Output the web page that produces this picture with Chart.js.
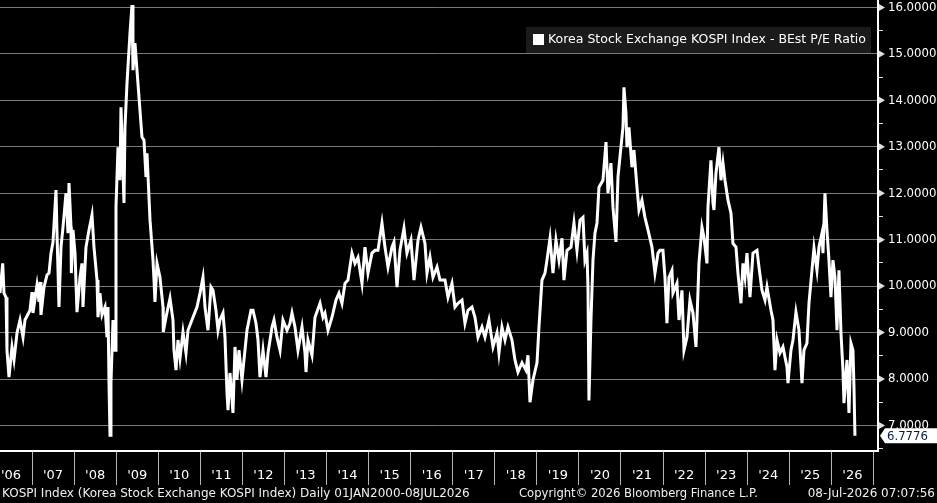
<!DOCTYPE html>
<html>
<head>
<meta charset="utf-8">
<script src="https://cdn.jsdelivr.net/npm/chart.js@4/dist/chart.umd.min.js"></script>
<style>
html,body{margin:0;padding:0;background:#000;overflow:hidden;}
canvas{display:block;}
</style>
</head>
<body>
<canvas id="c" width="937" height="503"></canvas>
<script>
// ---- DATA ----
const years = [
2006.239,2006.303,2006.334,2006.382,2006.405,2006.453,2006.524,2006.572,2006.643,2006.714,2006.786,2006.833,2006.952,
2007.000,2007.023,2007.118,2007.166,2007.190,2007.213,2007.285,2007.356,2007.404,2007.451,2007.499,2007.570,2007.594,
2007.641,2007.689,2007.737,2007.808,2007.855,2007.879,2007.927,2007.935,2007.974,2008.022,2008.069,2008.141,2008.188,
2008.212,2008.283,2008.355,2008.426,2008.473,2008.545,2008.568,2008.616,2008.664,2008.735,2008.782,2008.806,2008.830,
2008.854,2008.877,2008.925,2008.973,2008.996,2009.044,2009.091,2009.115,2009.186,2009.210,2009.258,2009.329,2009.377,
2009.400,2009.448,2009.495,2009.543,2009.614,2009.662,2009.709,2009.733,2009.805,2009.876,2009.900,2009.923,2009.971,
2010.042,2010.114,2010.120,2010.185,2010.280,2010.351,2010.375,2010.423,2010.470,2010.518,2010.589,2010.660,2010.708,
2010.827,2010.922,2010.993,2011.064,2011.112,2011.183,2011.254,2011.302,2011.373,2011.421,
2011.468,2011.540,2011.587,2011.635,2011.659,2011.706,2011.777,2011.825,2011.872,2011.920,2011.991,2012.039,2012.110,
2012.205,2012.253,2012.324,2012.372,2012.419,2012.491,2012.562,2012.610,2012.705,2012.752,2012.823,2012.895,2012.966,
2013.061,2013.132,2013.180,2013.251,2013.322,2013.418,2013.489,2013.513,2013.560,2013.655,2013.727,2013.846,2013.917,
2013.964,2014.036,2014.131,2014.226,2014.297,2014.368,2014.440,2014.511,2014.606,2014.677,2014.749,2014.844,2014.915,
2014.986,2015.081,2015.153,2015.224,2015.319,2015.390,2015.462,2015.557,2015.604,2015.676,2015.747,2015.842,2015.913,
2016.008,2016.080,2016.175,2016.246,2016.341,2016.389,2016.460,2016.531,2016.627,2016.698,2016.817,2016.888,
2016.983,2017.054,2017.126,2017.221,2017.292,2017.363,2017.458,2017.530,2017.601,2017.696,2017.767,2017.862,2017.958,
2018.053,2018.100,2018.171,2018.243,2018.314,2018.409,2018.480,2018.552,2018.647,2018.742,2018.790,2018.837,2018.908,
2019.004,2019.051,2019.122,2019.194,2019.241,2019.313,2019.384,2019.455,2019.526,2019.598,2019.645,2019.717,2019.812,
2019.883,2019.954,2020.026,2020.097,2020.144,2020.192,2020.216,2020.239,2020.287,2020.335,2020.382,2020.430,2020.477,
2020.572,2020.644,2020.691,2020.762,2020.810,2020.881,2020.929,2020.976,2021.048,2021.071,2021.119,2021.143,2021.190,
2021.261,2021.309,2021.380,2021.428,2021.499,2021.570,2021.642,2021.737,2021.808,2021.880,2021.927,
2021.998,2022.046,2022.093,2022.141,2022.212,2022.236,2022.331,2022.379,2022.450,2022.498,2022.569,2022.640,2022.712,
2022.783,2022.807,2022.854,2022.925,2022.973,2023.044,2023.068,2023.139,2023.187,2023.211,2023.258,2023.330,2023.377,
2023.425,2023.472,2023.544,2023.615,2023.662,2023.734,2023.781,2023.853,2023.900,2023.948,2023.995,2024.067,2024.138,
2024.233,2024.281,2024.352,2024.423,2024.471,2024.566,2024.613,2024.661,2024.709,2024.780,2024.851,2024.946,2024.970,
2025.041,2025.089,2025.160,2025.231,2025.303,2025.350,2025.421,2025.469,2025.540,2025.588,2025.659,2025.707,2025.778,
2025.802,2025.849,2025.897,2025.944,2025.992,2026.039,2026.087,2026.135,2026.182,2026.230,2026.277,2026.301,2026.372,
2026.420,2026.467,2026.515,2026.539,2026.562
];
const peRatio = [
9.85,10.49,9.85,9.76,8.62,8.04,8.69,8.41,8.99,9.27,8.90,9.27,9.48,
9.87,9.42,10.02,9.66,10.09,9.38,9.98,10.24,10.28,10.71,10.95,12.07,11.14,
9.55,10.84,11.27,12.00,11.14,12.22,11.27,10.28,11.21,10.71,9.44,10.19,10.49,
9.55,10.84,11.21,11.53,10.84,10.13,9.33,9.85,9.38,9.55,8.90,9.55,7.91,
6.79,7.91,9.27,8.62,11.70,12.99,12.28,13.85,11.79,13.42,14.37,15.45,16.05,
14.65,15.23,14.65,14.07,13.21,13.14,12.35,12.86,11.42,10.56,10.13,9.66,10.49,
10.19,9.55,9.01,9.33,9.74,9.27,8.62,8.19,8.84,8.45,9.01,8.56,9.05,
9.33,9.55,9.85,10.19,9.55,9.05,9.98,9.91,9.48,9.05,
9.27,9.42,8.90,7.70,7.33,8.13,7.27,8.69,7.98,8.62,7.98,8.41,9.05,
9.48,9.48,9.20,8.84,8.04,8.62,8.04,8.56,9.12,9.27,8.90,8.62,9.27,
9.05,9.20,9.42,9.12,8.62,9.12,8.56,8.15,8.84,8.51,9.33,9.63,9.33,
9.42,9.05,9.33,9.70,9.85,9.63,10.06,10.13,10.71,10.49,10.62,10.06,10.84,
10.28,10.71,10.77,10.77,11.36,10.84,10.41,10.84,10.95,9.98,10.77,11.25,10.71,
10.99,10.13,10.99,11.27,10.92,10.28,10.62,10.19,10.41,10.13,10.13,9.76,
10.06,9.55,9.63,9.70,9.20,9.48,9.55,9.33,8.90,9.12,8.90,9.27,8.69,
8.99,8.56,9.12,8.84,9.12,8.84,8.41,8.15,8.35,8.19,8.51,7.50,7.98,
8.35,9.12,10.13,10.28,10.56,11.03,10.28,10.99,10.56,11.03,10.13,10.77,10.84,
11.36,10.77,11.42,11.48,10.56,10.71,9.98,7.54,9.27,10.56,11.14,11.36,12.13,
12.28,13.10,12.00,12.65,11.70,10.95,12.35,12.78,13.42,14.28,13.72,12.99,13.42,
12.56,12.93,12.13,11.64,11.85,11.48,11.21,10.84,10.28,10.71,10.77,
10.77,10.19,9.20,10.19,10.34,9.85,10.06,9.27,9.91,8.62,8.90,9.70,9.42,
8.69,9.27,10.49,11.27,11.05,10.49,11.70,12.71,11.79,11.64,12.43,12.99,12.28,
12.65,12.28,11.85,11.57,10.92,10.84,10.28,9.63,10.49,10.19,10.71,9.76,10.71,
10.77,10.41,9.91,9.70,9.98,9.48,9.27,8.19,8.84,8.56,8.69,8.26,7.91,
8.62,8.84,9.44,9.05,7.91,8.62,8.77,9.63,10.34,10.82,10.34,10.84,11.14,
10.71,12.00,11.20,10.56,9.76,10.56,10.19,9.05,10.34,8.99,8.19,7.48,8.41,
7.27,8.77,8.62,7.82,6.7776
];
const seriesName = "Korea Stock Exchange KOSPI Index - BEst P/E Ratio";
const lastValueLabel = "6.7776";
const xTickYears = [2007,2008,2009,2010,2011,2012,2013,2014,2015,2016,2017,2018,2019,2020,2021,2022,2023,2024,2025,2026,2027];
const xTickLabels = ["'06","'07","'08","'09","'10","'11","'12","'13","'14","'15","'16","'17","'18","'19","'20","'21","'22","'23","'24","'25","'26"];
const yTickValues = [6.5,7,7.5,8,8.5,9,9.5,10,10.5,11,11.5,12,12.5,13,13.5,14,14.5,15,15.5,16];
const footerLeft = "KOSPI Index (Korea Stock Exchange KOSPI Index) Daily 01JAN2000-08JUL2026";
const footerMid = "Copyright\u00A9 2026 Bloomberg Finance L.P.";
const footerRight = "08-Jul-2026 07:07:56";

const FONT = "'DejaVu Sans', Verdana, sans-serif";
const NUMFONT = "'DejaVu Sans Condensed', 'Liberation Sans', sans-serif";

const points = years.map((x, i) => ({x: x, y: peRatio[i]}));

const decor = {
  id: 'decor',
  beforeDraw(chart) {
    const ctx = chart.ctx;
    ctx.save();
    ctx.fillStyle = '#000';
    ctx.fillRect(0, 0, chart.width, chart.height);
    ctx.restore();
  },
  afterDraw(chart) {
    const ctx = chart.ctx;
    const ys = chart.scales.y;
    const area = chart.chartArea;
    ctx.save();
    // integer tick markers (small triangles)
    ctx.fillStyle = '#e0e0e0';
    yTickValues.forEach(v => {
      if (Math.abs(v - Math.round(v)) < 1e-9 && v >= 7) {
        const py = ys.getPixelForValue(v);
        ctx.beginPath();
        ctx.moveTo(area.right + 1, py - 3.5);
        ctx.lineTo(area.right + 7, py);
        ctx.lineTo(area.right + 1, py + 3.5);
        ctx.closePath();
        ctx.fill();
      }
    });
    // legend box
    ctx.fillStyle = '#1b1b1b';
    ctx.fillRect(526, 27, 345, 26);
    ctx.fillStyle = '#ffffff';
    ctx.fillRect(533, 34, 11, 11);
    ctx.font = "12.5px " + FONT;
    ctx.textBaseline = 'middle';
    ctx.textAlign = 'left';
    ctx.fillText(seriesName, 548, 40);
    // last value box
    const lastVal = peRatio[peRatio.length - 1];
    const ly = ys.getPixelForValue(lastVal);
    ctx.beginPath();
    ctx.moveTo(area.right + 2, ly);
    ctx.lineTo(area.right + 7, ly - 7.5);
    ctx.lineTo(chart.width, ly - 7.5);
    ctx.lineTo(chart.width, ly + 7.5);
    ctx.lineTo(area.right + 7, ly + 7.5);
    ctx.closePath();
    ctx.fillStyle = '#ffffff';
    ctx.fill();
    ctx.fillStyle = '#0a1a40';
    ctx.font = "13px " + NUMFONT;
    ctx.fillText(lastValueLabel, area.right + 9, ly + 0.5);
    // footer
    ctx.fillStyle = '#f0f0f0';
    ctx.font = "12px " + FONT;
    ctx.textAlign = 'left';
    ctx.fillText(footerLeft, 2, 494);
    ctx.font = "11.6px " + FONT;
    ctx.fillText(footerMid, 519, 494);
    ctx.font = "12px " + FONT;
    ctx.textAlign = 'right';
    ctx.fillText(footerRight, 935, 494);
    ctx.restore();
  }
};

new Chart(document.getElementById('c'), {
  type: 'line',
  data: {
    datasets: [{
      label: seriesName,
      data: points,
      borderColor: '#ffffff',
      borderWidth: 3,
      pointRadius: 0,
      tension: 0,
      fill: false
    }]
  },
  options: {
    responsive: false,
    devicePixelRatio: 1,
    animation: false,
    layout: {padding: 0},
    plugins: {legend: {display: false}, tooltip: {enabled: false}, title: {display: false}},
    scales: {
      x: {
        type: 'linear',
        position: 'bottom',
        min: 2006.239,
        max: 2027.11,
        afterBuildTicks(scale) { scale.ticks = xTickYears.map(v => ({value: v})); },
        afterFit(scale) { scale.height = 52; scale.paddingLeft = 0; scale.paddingRight = 0; },
        grid: {drawOnChartArea: false, drawTicks: true, tickLength: 34, color: '#b4b4b4', lineWidth: 1},
        border: {display: true, color: '#ffffff', width: 2},
        ticks: {
          autoSkip: false, maxRotation: 0, minRotation: 0,
          padding: -17, labelOffset: -21,
          color: '#ffffff',
          font: {family: FONT, size: 13},
          callback: (v, i) => xTickLabels[i]
        }
      },
      y: {
        type: 'linear',
        position: 'right',
        min: 6.45,
        max: 16.16,
        afterBuildTicks(scale) { scale.ticks = yTickValues.map(v => ({value: v})); },
        afterFit(scale) { scale.width = 59; scale.paddingTop = 0; scale.paddingBottom = 0; },
        grid: {
          drawOnChartArea: true, drawTicks: true, tickLength: 5,
          color: ctx => (ctx.tick && Math.abs(ctx.tick.value - Math.round(ctx.tick.value)) < 1e-9) ? '#7a7a7a' : 'rgba(0,0,0,0)',
          tickColor: '#e0e0e0', lineWidth: 1
        },
        border: {display: true, color: '#ffffff', width: 2},
        ticks: {
          padding: 5,
          color: '#ffffff',
          font: {family: NUMFONT, size: 13},
          callback: v => (Math.abs(v - Math.round(v)) < 1e-9 && v >= 7) ? v.toFixed(4) : ''
        }
      }
    }
  },
  plugins: [decor]
});
</script>
</body>
</html>
